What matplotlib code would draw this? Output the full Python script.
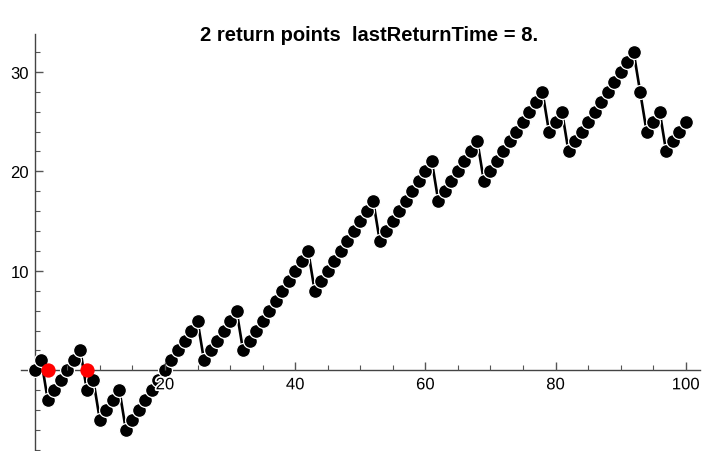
import matplotlib
matplotlib.use("Agg")
import matplotlib.pyplot as plt
import matplotlib.patheffects as pe
from matplotlib.ticker import FixedLocator

plt.rcParams['font.family'] = ['Liberation Sans', 'DejaVu Sans']

# walk values for t = 0..100
walk = [0, 1, -3, -2, -1, 0, 1, 2, -2, -1,
        -5, -4, -3, -2, -6, -5, -4, -3, -2, -1,
        0, 1, 2, 3, 4, 5, 1, 2, 3, 4,
        5, 6, 2, 3, 4, 5, 6, 7, 8, 9,
        10, 11, 12, 8, 9, 10, 11, 12, 13, 14,
        15, 16, 17, 13, 14, 15, 16, 17, 18, 19,
        20, 21, 17, 18, 19, 20, 21, 22, 23, 19,
        20, 21, 22, 23, 24, 25, 26, 27, 28, 24,
        25, 26, 22, 23, 24, 25, 26, 27, 28, 29,
        30, 31, 32, 28, 24, 25, 26, 22, 23, 24,
        25]
times = list(range(len(walk)))

return_times = [2, 8]
return_vals = [0, 0]

x_labels = [20, 40, 60, 80, 100]
y_labels = [10, 20, 30]

fig = plt.figure(figsize=(7.04, 4.52), dpi=100)
ax = fig.add_axes([21 / 704, 0 / 452, (700 - 21) / 704, (452 - 35) / 452])

ax.plot(times, walk, color='black', lw=1.9, zorder=2)
ax.plot(times, walk, linestyle='none', marker='o', ms=10.0,
        markerfacecolor='black', markeredgecolor='white', mew=0.9, zorder=3)
ax.plot(return_times, return_vals, linestyle='none', marker='o', ms=10.3,
        markerfacecolor='red', markeredgecolor='red', mew=0, zorder=4)

ax.set_xlim(-2.12, 102.2)
ax.set_ylim(-8.1, 33.8)

for s in ['top', 'right']:
    ax.spines[s].set_visible(False)
ax.spines['left'].set_position(('data', 0))
ax.spines['bottom'].set_position(('data', 0))
for s in ['left', 'bottom']:
    ax.spines[s].set_color('#444444')
    ax.spines[s].set_linewidth(1.0)

ax.xaxis.set_major_locator(FixedLocator(x_labels))
ax.xaxis.set_minor_locator(FixedLocator([5, 10, 15, 25, 30, 35, 45, 50, 55, 65, 70, 75, 85, 90, 95]))
ax.yaxis.set_major_locator(FixedLocator(y_labels))
ax.yaxis.set_minor_locator(FixedLocator([-8, -6, -4, -2, 2, 4, 6, 8, 12, 14, 16, 18, 22, 24, 26, 28, 32]))

ax.tick_params(which='both', direction='in', color='#555555', labelsize=12)
ax.tick_params(which='major', length=6, width=1)
ax.tick_params(which='minor', length=3.5, width=0.8)
ax.tick_params(axis='x', pad=5)
ax.tick_params(axis='y', pad=4)
ax.xaxis.set_zorder(5)
for lab in ax.get_xticklabels():
    lab.set_path_effects([pe.withStroke(linewidth=2.5, foreground='white')])

ax.set_title('2 return points  lastReturnTime = 8.', fontsize=14.5,
             fontweight='bold', x=(369 - 21) / 679, y=1.0, pad=-4)

fig.savefig('out.png', dpi=100)
